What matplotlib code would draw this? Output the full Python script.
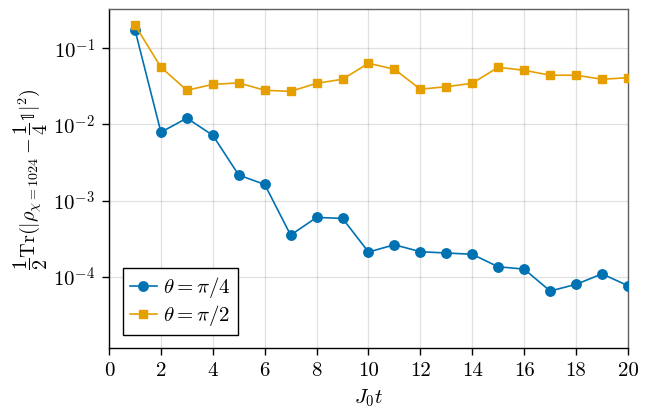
import math
import matplotlib
matplotlib.use("Agg")
import matplotlib.pyplot as plt
from matplotlib.ticker import FixedLocator, FuncFormatter, NullLocator

plt.rcParams["mathtext.fontset"] = "cm"
plt.rcParams["font.family"] = "serif"
plt.rcParams["font.serif"] = ["cmr10", "DejaVu Serif"]
plt.rcParams["axes.formatter.use_mathtext"] = True

# Time points J0 t
t = [1, 2, 3, 4, 5, 6, 7, 8, 9, 10, 11, 12, 13, 14, 15, 16, 17, 18, 19, 20]

# Distance from the maximally mixed state, theta = pi/4
dist_pi4 = [0.175, 0.0079, 0.0121, 0.0072, 0.00216, 0.00163, 0.000352, 0.000601,
            0.000583, 0.000211, 0.000263, 0.000213, 0.000205, 0.000197,
            0.000135, 0.000126, 0.0000649, 0.0000794, 0.000109, 0.0000762]

# Distance from the maximally mixed state, theta = pi/2
dist_pi2 = [0.202, 0.0564, 0.0281, 0.0336, 0.0351, 0.0281, 0.0272, 0.0347,
            0.0392, 0.0636, 0.053, 0.029, 0.0313, 0.0347, 0.0564, 0.0514,
            0.0443, 0.0443, 0.0392, 0.0411]

labels = [r"$\theta = \pi/4$", r"$\theta = \pi/2$"]
x_ticks = [0, 2, 4, 6, 8, 10, 12, 14, 16, 18, 20]
y_ticks = [1e-4, 1e-3, 1e-2, 1e-1]

blue = "#0072B2"
orange = "#E69F00"

fig = plt.figure(figsize=(6.54, 4.09), dpi=100)
ax = fig.add_axes([0.1667, 0.1484, 0.7935, 0.8296])

ax.plot(t, dist_pi4, color=blue, lw=1.2, marker="o", ms=6.8, label=labels[0], zorder=3)
ax.plot(t, dist_pi2, color=orange, lw=1.2, marker="s", ms=6.3, label=labels[1], zorder=3)

ax.set_yscale("log")
ax.set_xlim(0, 20)
ax.set_ylim(10 ** -4.94, 10 ** -0.484)

ax.xaxis.set_major_locator(FixedLocator(x_ticks))
ax.yaxis.set_major_locator(FixedLocator(y_ticks))
ax.yaxis.set_minor_locator(NullLocator())
ax.xaxis.set_minor_locator(NullLocator())


def log_fmt(v, pos):
    e = int(round(math.log10(v)))
    return r"$10^{%d}$" % e


ax.yaxis.set_major_formatter(FuncFormatter(log_fmt))
ax.xaxis.set_major_formatter(FuncFormatter(lambda v, p: "%d" % v))

ax.grid(True, color="#000000", alpha=0.12, lw=0.9)
ax.set_axisbelow(True)

for side in ("left", "bottom"):
    ax.spines[side].set_color("black")
    ax.spines[side].set_linewidth(1.0)
for side in ("top", "right"):
    ax.spines[side].set_color("#606060")
    ax.spines[side].set_linewidth(1.0)

ax.tick_params(axis="both", which="major", direction="out", length=5, width=1.0,
               labelsize=15, top=False, right=False, pad=5)

ax.set_xlabel(r"$J_0 t$", fontsize=15, labelpad=5)
ax.set_ylabel(r"$\dfrac{1}{2}\mathrm{Tr}(|\rho_{\chi=1024} - \dfrac{1}{4}\mathbb{1}|^2)$",
              fontsize=14.5, labelpad=2)

leg = ax.legend(loc="lower left", bbox_to_anchor=(0.014, 0.02), fontsize=15,
                frameon=True, fancybox=False, edgecolor="black", framealpha=1,
                handlelength=1.3, handletextpad=0.3, borderpad=0.35, labelspacing=0.15,
                borderaxespad=0.3)
leg.get_frame().set_linewidth(1.0)

fig.savefig("out.png", dpi=100)
